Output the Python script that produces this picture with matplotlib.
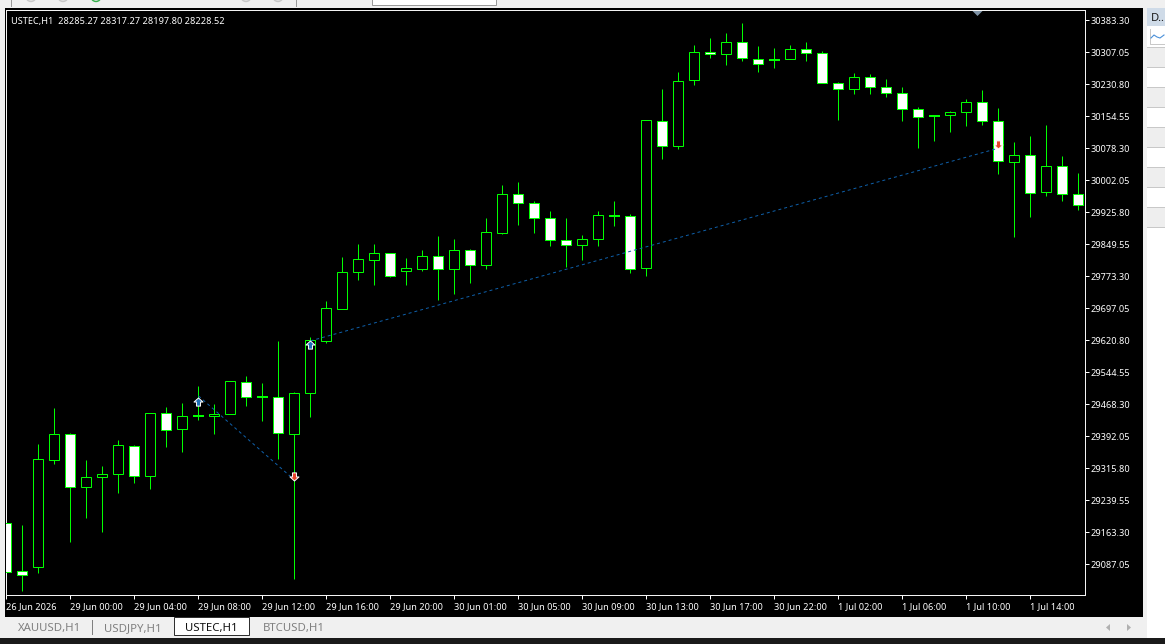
import numpy as np
import matplotlib
matplotlib.use("Agg")
import matplotlib.pyplot as plt
from matplotlib.patches import Rectangle, Circle, Polygon
from matplotlib.path import Path

plt.rcParams['font.family'] = ['Noto Sans', 'DejaVu Sans']

# USTEC H1 candles, one entry per bar
opens = [29185.2, 29072.3, 29081.8, 29335.3, 29397.3, 29271.0, 29294.9, 29302.0, 29368.7, 29297.2,
         29447.4, 29409.2, 29441.6, 29440.2, 29445.0, 29521.2, 29485.5, 29485.5, 29397.3, 29495.0,
         29620.3, 29696.6, 29784.8, 29813.3, 29828.6, 29785.7, 29791.9, 29821.4, 29791.9, 29835.7,
         29801.4, 29877.7, 29969.2, 29947.7, 29912.0, 29859.6, 29847.7, 29861.9, 29917.5, 29916.8,
         29792.8, 30143.1, 30083.5, 30240.8, 30307.5, 30302.8, 30331.4, 30290.9, 30289.2, 30290.9,
         30314.7, 30305.2, 30233.7, 30219.4, 30248.0, 30224.1, 30209.8, 30171.7, 30156.5, 30157.4,
         30164.6, 30188.4, 30143.1, 30045.4, 30062.1, 29974.0, 30035.9, 29969.2]
highs = [29185.2, 29181.2, 29374.2, 29459.2, 29399.7, 29336.1, 29321.8, 29383.7, 29371.8, 29447.4,
         29461.6, 29471.2, 29512.4, 29469.5, 29523.6, 29536.2, 29518.8, 29619.6, 29498.1, 29628.5,
         29714.9, 29819.1, 29850.8, 29850.8, 29828.6, 29817.4, 29836.4, 29869.8, 29861.9, 29838.1,
         29912.0, 29991.3, 29997.8, 29952.5, 29928.7, 29912.0, 29871.5, 29928.7, 29952.5, 29921.5,
         30145.5, 30219.4, 30259.9, 30324.2, 30340.9, 30352.8, 30376.6, 30321.8, 30317.1, 30324.2,
         30331.4, 30309.9, 30236.1, 30257.5, 30255.1, 30243.2, 30224.1, 30176.5, 30158.0, 30167.0,
         30195.6, 30217.0, 30174.1, 30093.1, 30107.4, 30133.6, 30059.8, 30019.2]
lows = [29069.9, 29024.6, 29066.1, 29327.2, 29141.4, 29198.6, 29165.2, 29258.1, 29282.0, 29267.7,
        29367.7, 29355.8, 29432.1, 29398.7, 29445.0, 29465.4, 29429.7, 29337.7, 29052.5, 29439.2,
        29615.6, 29696.6, 29765.0, 29753.1, 29772.1, 29753.1, 29786.4, 29717.3, 29731.6, 29757.8,
        29791.2, 29875.3, 29896.0, 29877.7, 29846.0, 29796.0, 29813.3, 29846.7, 29894.4, 29782.4,
        29775.2, 30054.0, 30077.9, 30230.3, 30294.7, 30278.0, 30287.5, 30261.3, 30270.8, 30290.9,
        30287.5, 30233.7, 30147.0, 30208.9, 30208.9, 30201.8, 30144.5, 30080.2, 30096.9, 30118.3,
        30132.6, 30135.0, 30018.3, 29868.2, 29915.8, 29965.8, 29954.0, 29932.5]
closes = [29069.9, 29061.3, 29337.7, 29397.3, 29271.0, 29294.9, 29302.0, 29371.1, 29297.2, 29447.4,
          29406.8, 29440.2, 29441.6, 29445.0, 29523.6, 29485.5, 29485.5, 29399.7, 29495.0, 29622.0,
          29697.5, 29783.3, 29814.3, 29828.6, 29775.2, 29792.8, 29821.4, 29791.9, 29835.7, 29801.4,
          29878.6, 29969.2, 29947.7, 29912.0, 29859.6, 29847.7, 29861.9, 29919.1, 29917.5, 29790.5,
          30145.5, 30083.5, 30238.4, 30307.5, 30302.8, 30331.4, 30293.2, 30279.0, 30289.2, 30314.7,
          30305.2, 30233.7, 30219.4, 30248.0, 30224.1, 30209.8, 30171.7, 30154.1, 30156.5, 30164.6,
          30188.4, 30143.1, 30047.8, 30062.1, 29971.6, 30035.9, 29969.2, 29943.0]

price_ticks = [30383.30, 30307.05, 30230.80, 30154.55, 30078.30, 30002.05, 29925.80, 29849.55, 29773.30,
               29697.05, 29620.80, 29544.55, 29468.30, 29392.05, 29315.80, 29239.55, 29163.30, 29087.05]
time_labels = ['26 Jun 2026', '29 Jun 00:00', '29 Jun 04:00', '29 Jun 08:00', '29 Jun 12:00', '29 Jun 16:00',
               '29 Jun 20:00', '30 Jun 01:00', '30 Jun 05:00', '30 Jun 09:00', '30 Jun 13:00', '30 Jun 17:00',
               '30 Jun 22:00', '1 Jul 02:00', '1 Jul 06:00', '1 Jul 10:00', '1 Jul 14:00']

# two closed trades: bar index and price of entry/exit
trade_bars = [(12, 18), (19, 62)]
trade_line_prices = [(29488.6, 29288.4), (29619.6, 30078.8)]
entry_prices = [29474.3, 29608.9]
exit_prices = [29296.7, 30089.0]

tab_names = ['XAUUSD,H1', 'USDJPY,H1', 'USTEC,H1', 'BTCUSD,H1']

W, H = 1165, 644
GREEN = '#00ff00'
PX = 0.72  # one pixel in points at dpi 100

fig = plt.figure(figsize=(W / 100, H / 100), dpi=100, facecolor='#f0f0f0')

# window furniture, in pixel coordinates
bg = fig.add_axes([0, 0, 1, 1])
bg.set_xlim(0, W)
bg.set_ylim(H, 0)
bg.axis('off')
bg.add_patch(Rectangle((5, 8), 1138, 608.5, fc='black', ec='none'))
bg.add_patch(Rectangle((0, 638), W, 6, fc='#1a1a1a', ec='none'))

# toolbar scraps along the top edge
for cx, col in [(31, '#c8c8c8'), (63, '#c8c8c8'), (96, '#35b04a'), (246, '#c8c8c8'), (278, '#c8c8c8')]:
    bg.add_patch(Circle((cx, -3.5), 5, fc='#e4e4e4', ec=col, lw=1.0))
bg.plot([11.4, 11.4], [0, 5.5], color='#9a9a9a', lw=PX)
bg.plot([296.4, 296.4], [0, 5.5], color='#9a9a9a', lw=PX)
bg.add_patch(Rectangle((372.4, -2), 124, 6.5, fc='white', ec='#9a9a9a', lw=PX))

# side panel
bg.add_patch(Rectangle((1147, 8), 18, 630, fc='white', ec='none'))
bg.add_patch(Rectangle((1147, 8), 18, 18, fc='#cfdbe8', ec='none'))
bg.text(1151, 18, 'D..', color='#1a1a1a', fontsize=8, va='center', ha='left')
bg.plot([1150.4, 1150.4, 1165], [29, 44, 44], color='#c8c8c8', lw=PX)
bg.plot([1151, 1154, 1157, 1160, 1164], [38, 35, 37, 38, 35], color='#4a90d9', lw=0.8)
for ry in [47, 87, 127, 167, 207]:
    bg.add_patch(Rectangle((1147, ry), 18, 20, fc='#eeeeee', ec='none'))
for ry in [47, 67, 87, 107, 127, 147, 167, 187, 207, 227]:
    bg.plot([1147, 1165], [ry + 0.4, ry + 0.4], color='#c8c8c8', lw=PX)

# tabs
bg.add_patch(Rectangle((174.4, 616.9), 75, 18.5, fc='white', ec='#303030', lw=PX))
bg.plot([92.4, 92.4], [620, 634], color='#808080', lw=PX)
for name, tx, col in zip(tab_names, [18, 104, 185, 263], ['#808080', '#808080', '#101010', '#808080']):
    bg.text(tx, 628.5, name, color=col, fontsize=8.2, va='center', ha='left')
bg.add_patch(Polygon([[1110, 624], [1106, 627.5], [1110, 631]], fc='#b0b0b0', ec='none'))
bg.add_patch(Polygon([[1127, 624], [1131, 627.5], [1127, 631]], fc='#b0b0b0', ec='none'))
bg.add_patch(Polygon([[972.5, 11], [982.5, 11], [977.5, 16]], fc='#7f93a6', ec='none', zorder=5))

# price chart; the box sits just under the half pixel so snapping lands on the right row
ax = fig.add_axes([6.4 / W, (H - 595.4) / H, (1085.4 - 6.4) / W, (595.4 - 10.4) / H], zorder=2)
ax.set_facecolor('none')

o = np.array(opens)
h = np.array(highs)
l = np.array(lows)
c = np.array(closes)
idx = np.arange(len(o))

for i in idx:
    ax.plot([i, i], [l[i], h[i]], color=GREEN, lw=PX, solid_capstyle='butt', zorder=2)

doji = o == c
up = c > o
down = c < o
ax.bar(idx[up], (c - o)[up], bottom=o[up], width=0.625, facecolor='black', edgecolor=GREEN, lw=PX, zorder=3)
ax.bar(idx[down], (o - c)[down], bottom=c[down], width=0.625, facecolor='white', edgecolor=GREEN, lw=PX, zorder=3)
ax.hlines(c[doji], idx[doji] - 0.33, idx[doji] + 0.33, color=GREEN, lw=PX * 2, zorder=3)

# trade lines and arrows
arrow_up = Path([(0, 1), (1, 0.1), (0.45, 0.1), (0.45, -0.8), (-0.45, -0.8), (-0.45, 0.1), (-1, 0.1), (0, 1)], closed=True)
arrow_down = Path([(0, -1), (1, -0.1), (0.45, -0.1), (0.45, 0.8), (-0.45, 0.8), (-0.45, -0.1), (-1, -0.1), (0, -1)], closed=True)
for (b0, b1), (p0, p1), pin, pout in zip(trade_bars, trade_line_prices, entry_prices, exit_prices):
    ax.plot([b0, b1], [p0, p1], color='#0f5fa8', lw=PX, dashes=(3, 3), zorder=4)
    ax.plot([b0], [pin], marker=arrow_up, ms=6.5, mfc='#1f6fb5', mec='white', mew=0.7, ls='none', zorder=5)
    ax.plot([b1], [pout], marker=arrow_down, ms=6.5, mfc='#e8452a', mec='white', mew=0.7, ls='none', zorder=5)

ax.set_xlim(0, 67.4375)
ax.set_ylim(29013.19, 30407.13)

ax.yaxis.tick_right()
ax.set_yticks(price_ticks)
ax.set_yticklabels(['%.2f' % p for p in price_ticks])
ax.set_xticks(idx[::4][:len(time_labels)])
ax.set_xticklabels(time_labels, ha='left')
ax.tick_params(axis='y', colors='white', length=2.9, width=PX, labelsize=6.6, pad=0.8)
ax.tick_params(axis='x', colors='white', length=2.9, width=PX, labelsize=6.6, pad=1.8)
for side in ax.spines:
    ax.spines[side].set_color('#f4f4f4')
    ax.spines[side].set_linewidth(PX)

ax.text(0.0042, 0.989, 'USTEC,H1  28285.27 28317.27 28197.80 28228.52', transform=ax.transAxes,
        color='white', fontsize=6.6, va='top', ha='left')

fig.savefig('out.png', dpi=100, facecolor=fig.get_facecolor())
